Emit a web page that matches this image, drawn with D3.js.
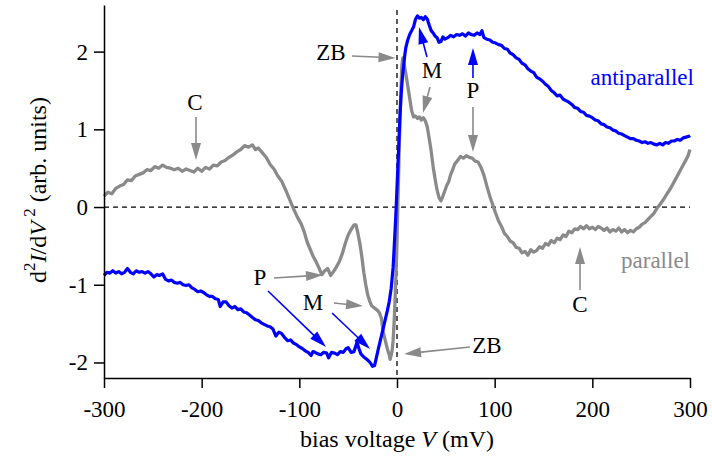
<!DOCTYPE html>
<html>
<head>
<meta charset="utf-8">
<script src="https://cdnjs.cloudflare.com/ajax/libs/d3/7.8.5/d3.min.js"></script>
<style>
  body { margin: 0; background: #fff; }
  .chart text { font-family: "Liberation Serif", "Times New Roman", serif; }
</style>
</head>
<body>
<div class="chart"></div>
<script>
/* Global Constants
============================================= */
const SVG_WIDTH = 712;
const SVG_HEIGHT = 461;

const GRAY = "#8a8a8a";
const BLUE = "#0000ff";
const FONT_SIZE = 23;
const TITLE_SIZE = 24;

// parallel curve: bias voltage (mV), d2I/dV2 (arb. units)
const parallelV = [-300,-296,-292,-288,-284,-280,-276,-272,-268,-264,-260,-256,-252,-248,-244,-240,-236,-232,-228,-224,
  -220,-216,-212,-208,-204,-200,-196,-192,-188,-184,-180,-176,-172,-168,-164,-160,-156,-152,-148,-145,
  -142,-138,-134,-130,-126,-122,-118,-114,-110,-106,-102,-98,-95,-92,-89,-86,-83,-80,-77,-74,
  -71,-68,-65,-62,-59,-56,-53,-50,-47,-44,-42,-40,-38,-36,-34,-32,-30,-28,-26,-24,
  -22,-20,-18,-16,-14,-12,-10,-8,-7,-5,-4,-3,-2,-1,0,1,2,3,4,5,
  6,7,9,11,13,15,17,19,21,23,25,27,29,31,33,35,37,39,41,43,
  45,47,49,51,53,55,57,59,62,65,68,71,74,77,80,83,86,89,92,95,
  98,101,104,107,110,113,116,119,122,125,128,131,134,137,140,143,146,149,152,155,
  158,161,164,167,170,173,176,179,182,185,188,191,194,197,200,203,206,209,212,215,
  218,221,224,227,230,233,236,239,242,245,248,251,254,257,260,263,266,269,272,275,
  278,281,284,287,290,293,296,298,300];
const parallelY = [0.14,0.19,0.17,0.24,0.27,0.29,0.35,0.34,0.40,0.42,0.44,0.48,0.47,0.52,0.50,0.54,0.51,0.50,0.48,0.50,
  0.46,0.49,0.47,0.45,0.50,0.46,0.51,0.49,0.54,0.53,0.58,0.60,0.64,0.67,0.71,0.74,0.79,0.77,0.80,0.74,
  0.76,0.70,0.64,0.55,0.49,0.40,0.33,0.22,0.10,-0.02,-0.13,-0.22,-0.32,-0.45,-0.54,-0.63,-0.70,-0.78,-0.87,-0.82,
  -0.79,-0.88,-0.83,-0.77,-0.70,-0.60,-0.47,-0.36,-0.29,-0.23,-0.23,-0.34,-0.47,-0.64,-0.84,-1.00,-1.13,-1.21,-1.27,-1.29,
  -1.31,-1.33,-1.36,-1.43,-1.61,-1.72,-1.82,-1.90,-1.96,-1.85,-1.72,-1.50,-1.20,-0.85,-0.45,0.10,0.60,1.10,1.50,1.82,
  1.92,1.86,1.72,1.56,1.40,1.24,1.16,1.17,1.14,1.16,1.12,1.15,1.11,1.03,0.88,0.72,0.52,0.36,0.22,0.12,
  0.08,0.14,0.21,0.28,0.33,0.42,0.48,0.55,0.60,0.65,0.63,0.66,0.64,0.63,0.59,0.58,0.51,0.41,0.27,0.14,
  0.03,-0.08,-0.18,-0.25,-0.34,-0.38,-0.44,-0.46,-0.52,-0.53,-0.59,-0.57,-0.62,-0.55,-0.58,-0.56,-0.51,-0.53,-0.47,-0.49,
  -0.43,-0.46,-0.40,-0.42,-0.36,-0.38,-0.31,-0.33,-0.28,-0.29,-0.25,-0.28,-0.24,-0.28,-0.26,-0.29,-0.25,-0.27,-0.30,-0.27,
  -0.32,-0.29,-0.31,-0.27,-0.32,-0.29,-0.33,-0.30,-0.32,-0.28,-0.26,-0.22,-0.20,-0.16,-0.12,-0.08,-0.02,0.03,0.08,0.14,
  0.20,0.26,0.33,0.40,0.47,0.54,0.61,0.66,0.74];

// antiparallel curve
const antiV = [-300,-297,-294,-291,-288,-285,-282,-279,-276,-273,-270,-267,-264,-261,-258,-255,-252,-249,-246,-243,
  -240,-237,-234,-231,-228,-225,-222,-219,-216,-213,-210,-207,-204,-201,-198,-195,-192,-189,-186,-183,
  -181,-178,-175,-172,-169,-166,-163,-160,-157,-154,-151,-148,-145,-142,-139,-136,-133,-130,-127,-124,
  -121,-118,-115,-112,-109,-106,-103,-100,-97,-94,-91,-88,-86,-84,-81,-78,-75,-72,-70,-67,
  -64,-61,-58,-55,-52,-50,-47,-44,-41,-39,-37,-34,-31,-29,-27,-25,-23,-21,-19,-16,
  -13,-10,-8,-6,-4,-3,-2,-1,0,1,2,3,4,5,6,7,8,9,11,13,
  15,17,19,21,23,25,27,29,31,33,35,37,39,41,43,45,47,49,52,55,
  58,61,64,67,70,73,76,79,82,85,87,89,92,95,98,101,104,107,110,113,
  116,119,122,125,128,131,134,137,140,143,146,149,152,155,158,161,164,167,170,173,
  176,179,182,185,188,191,194,197,200,203,206,209,212,215,218,221,224,227,230,233,
  236,239,242,245,248,251,254,257,260,263,266,269,272,275,278,281,284,287,290,293,
  296,299,300];
const antiY = [-0.88,-0.84,-0.85,-0.82,-0.85,-0.83,-0.86,-0.84,-0.79,-0.84,-0.86,-0.82,-0.84,-0.83,-0.85,-0.83,-0.86,-0.90,-0.87,-0.88,
  -0.86,-0.93,-0.95,-0.94,-0.97,-0.98,-0.97,-1.00,-1.01,-1.00,-1.04,-1.06,-1.09,-1.08,-1.10,-1.13,-1.15,-1.15,-1.18,-1.19,
  -1.28,-1.22,-1.22,-1.27,-1.30,-1.28,-1.32,-1.31,-1.35,-1.36,-1.39,-1.42,-1.45,-1.46,-1.49,-1.51,-1.53,-1.54,-1.57,-1.66,
  -1.61,-1.63,-1.68,-1.72,-1.71,-1.75,-1.77,-1.80,-1.82,-1.85,-1.87,-1.91,-1.86,-1.87,-1.89,-1.90,-1.87,-1.88,-1.94,-1.87,
  -1.88,-1.90,-1.86,-1.87,-1.82,-1.81,-1.87,-1.86,-1.74,-1.82,-1.89,-1.93,-1.96,-1.98,-2.01,-2.05,-2.04,-1.93,-1.82,-1.66,
  -1.50,-1.34,-1.22,-1.05,-0.78,-0.55,-0.30,-0.05,0.25,0.55,0.85,1.16,1.40,1.58,1.72,1.84,1.96,2.05,2.15,2.22,
  2.27,2.32,2.42,2.46,2.43,2.44,2.41,2.45,2.42,2.34,2.27,2.24,2.20,2.18,2.12,2.13,2.19,2.16,2.18,2.21,
  2.19,2.22,2.21,2.23,2.20,2.24,2.22,2.21,2.24,2.22,2.27,2.18,2.16,2.15,2.12,2.11,2.09,2.08,2.04,2.03,
  1.98,1.96,1.92,1.90,1.85,1.83,1.78,1.75,1.73,1.67,1.65,1.62,1.58,1.55,1.50,1.47,1.43,1.44,1.39,1.37,
  1.35,1.32,1.28,1.27,1.23,1.22,1.18,1.17,1.15,1.12,1.11,1.07,1.06,1.03,1.02,0.99,0.98,0.95,0.94,0.92,
  0.90,0.88,0.88,0.86,0.85,0.83,0.84,0.82,0.83,0.81,0.80,0.82,0.80,0.83,0.82,0.85,0.85,0.87,0.86,0.89,
  0.90,0.91,0.92];

const xTicks = [-300, -200, -100, 0, 100, 200, 300];
const yTicks = [-2, -1, 0, 1, 2];

// annotation labels: text, V, value (baseline), colour, anchor
const labels = [
  ["C", -206.8, 1.25, "#000", "middle"],
  ["ZB", -67.6, 1.89, "#000", "middle"],
  ["M", 35.8, 1.66, "#000", "middle"],
  ["P", 77.8, 1.40, "#000", "middle"],
  ["C", 187.4, -1.35, "#000", "middle"],
  ["P", -140.3, -1.00, "#000", "middle"],
  ["M", -86.0, -1.325, "#000", "middle"],
  ["ZB", 92.1, -1.878, "#000", "middle"],
  ["antiparallel", 304, 1.57, BLUE, "end"],
  ["parallel", 300, -0.785, GRAY, "end"]
];

// annotation arrows: tailV, tailY, tipV, tipY, colour
const arrows = [
  [-205.8, 1.158, -205.8, 0.605, GRAY],
  [-46.1, 1.944, -1.5, 1.918, GRAY],
  [33.8, 1.545, 26.6, 1.21, GRAY],
  [77.8, 1.287, 77.8, 0.708, GRAY],
  [187.4, -1.068, 187.4, -0.515, GRAY],
  [-125.9, -0.913, -75.8, -0.874, GRAY],
  [-64.5, -1.235, -34.8, -1.274, GRAY],
  [74.7, -1.801, 7.2, -1.891, GRAY],
  [30.7, 1.93, 22.5, 2.317, BLUE],
  [77.8, 1.66, 77.8, 2.046, BLUE],
  [-132.1, -1.08, -72.7, -1.801, BLUE],
  [-66.5, -1.364, -27.6, -1.828, BLUE]
];

/* Setup
============================================= */
var plotLeft = 104,
    plotRight = 690,
    plotTop = 5,
    plotBottom = 378;

var svg = d3.select(".chart")
    .append("svg")
    .attr("width", SVG_WIDTH)
    .attr("height", SVG_HEIGHT);

var xLinearScale = d3.scaleLinear().domain([-300, 300]).range([plotLeft, plotRight]);
var yLinearScale = d3.scaleLinear().domain([-2.2, 2.6]).range([plotBottom, plotTop]);

// zero reference lines
svg.append("line")
    .attr("x1", plotLeft)
    .attr("x2", plotRight)
    .attr("y1", yLinearScale(0))
    .attr("y2", yLinearScale(0))
    .attr("stroke", "#000")
    .attr("stroke-width", 1.3)
    .attr("stroke-dasharray", "5,4");

svg.append("line")
    .attr("x1", xLinearScale(0))
    .attr("x2", xLinearScale(0))
    .attr("y1", 10)
    .attr("y2", plotBottom)
    .attr("stroke", "#333")
    .attr("stroke-width", 1.6)
    .attr("stroke-dasharray", "5,4");

/* Curves
============================================= */
var line = d3.line()
    .x(function(d) { return xLinearScale(d[0]); })
    .y(function(d) { return yLinearScale(d[1]); });

svg.append("path")
    .datum(d3.zip(parallelV, parallelY))
    .attr("d", line)
    .attr("fill", "none")
    .attr("stroke", GRAY)
    .attr("stroke-width", 3.3)
    .attr("stroke-linejoin", "round");

svg.append("path")
    .datum(d3.zip(antiV, antiY))
    .attr("d", line)
    .attr("fill", "none")
    .attr("stroke", BLUE)
    .attr("stroke-width", 3.2)
    .attr("stroke-linejoin", "round");

/* Axes
============================================= */
var bottomAxis = d3.axisBottom(xLinearScale)
    .tickValues(xTicks)
    .tickSize(10)
    .tickSizeOuter(0)
    .tickPadding(13)
    .tickFormat(function(d) { return String(d); });

var leftAxis = d3.axisLeft(yLinearScale)
    .tickValues(yTicks)
    .tickSize(10)
    .tickSizeOuter(0)
    .tickPadding(6)
    .tickFormat(function(d) { return String(d); });

var xAxis = svg.append("g")
    .attr("transform", `translate(0, ${plotBottom})`)
    .call(bottomAxis);

var yAxis = svg.append("g")
    .attr("transform", `translate(${plotLeft}, 0)`)
    .call(leftAxis);

[xAxis, yAxis].forEach(function(ax) {
    ax.select(".domain").attr("stroke", "#000").attr("stroke-width", 1.5);
    ax.selectAll(".tick line").attr("stroke", "#000").attr("stroke-width", 1.5);
    ax.selectAll(".tick text")
        .attr("fill", "#000")
        .style("font-family", "'Liberation Serif', serif")
        .style("font-size", FONT_SIZE + "px");
});

// axis titles
var xTitle = svg.append("text")
    .attr("x", xLinearScale(0))
    .attr("y", 447)
    .attr("text-anchor", "middle")
    .style("font-size", TITLE_SIZE + "px");
xTitle.append("tspan").text("bias voltage ");
xTitle.append("tspan").style("font-style", "italic").text("V");
xTitle.append("tspan").text(" (mV)");

var yTitle = svg.append("text")
    .attr("transform", "translate(46, 190) rotate(-90)")
    .attr("text-anchor", "middle")
    .style("font-size", TITLE_SIZE + "px");
yTitle.append("tspan").text("d");
yTitle.append("tspan").attr("dy", -11).style("font-size", "17px").text("2");
yTitle.append("tspan").attr("dy", 11).style("font-style", "italic").text("I");
yTitle.append("tspan").text("/d");
yTitle.append("tspan").style("font-style", "italic").text("V");
yTitle.append("tspan").attr("dy", -11).style("font-size", "17px").text(" 2");
yTitle.append("tspan").attr("dy", 11).text(" (arb. units)");

/* Annotations
============================================= */
svg.append("g")
    .selectAll("text")
    .data(labels)
    .enter()
    .append("text")
    .attr("x", function(d) { return xLinearScale(d[1]); })
    .attr("y", function(d) { return yLinearScale(d[2]); })
    .attr("fill", function(d) { return d[3]; })
    .attr("text-anchor", function(d) { return d[4]; })
    .style("font-size", FONT_SIZE + "px")
    .text(function(d) { return d[0]; });

var arrowGroup = svg.append("g");
arrows.forEach(function(a) {
    drawArrow(arrowGroup, xLinearScale(a[0]), yLinearScale(a[1]),
              xLinearScale(a[2]), yLinearScale(a[3]), a[4]);
});

/* Functions
============================================= */

/*
 * draws a line with a filled triangular head
 *
 * @param g, tail x/y, tip x/y, colour
 */
function drawArrow(g, x1, y1, x2, y2, color) {
    var headLen = 17,
        headHalf = 5;
    var dx = x2 - x1,
        dy = y2 - y1;
    var len = Math.sqrt(dx * dx + dy * dy);
    var ux = dx / len,
        uy = dy / len;
    var bx = x2 - ux * headLen,
        by = y2 - uy * headLen;

    g.append("line")
        .attr("x1", x1)
        .attr("y1", y1)
        .attr("x2", bx + ux * 2)
        .attr("y2", by + uy * 2)
        .attr("stroke", color)
        .attr("stroke-width", 1.6);

    g.append("polygon")
        .attr("points", [
            [x2, y2],
            [bx - uy * headHalf, by + ux * headHalf],
            [bx + uy * headHalf, by - ux * headHalf]
        ].map(function(p) { return p.join(","); }).join(" "))
        .attr("fill", color);
}
</script>
</body>
</html>
